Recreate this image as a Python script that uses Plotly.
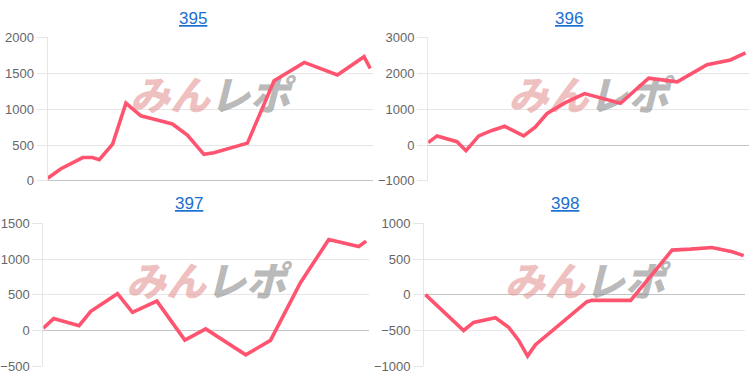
import plotly.graph_objects as go

# ---- data ----
titles = ["395", "396", "397", "398"]

x_395 = [0, 4.1, 10.8, 13.8, 15.9, 20.0, 24.1, 28.7, 32.8, 38.4, 43.0, 48.1, 51.2, 61.5, 69.7, 79.0, 89.2, 97.4, 99.3]
y_395 = [36, 170, 326, 326, 295, 513, 1085, 907, 861, 794, 639, 371, 393, 527, 1397, 1652, 1478, 1732, 1567]

x_396 = [0, 2.8, 9.0, 11.8, 15.8, 19.9, 23.9, 29.8, 33.4, 37.1, 42.8, 48.8, 60.0, 68.8, 77.7, 87.0, 94.3, 99.0]
y_396 = [67, 255, 94, -156, 255, 407, 523, 255, 496, 880, 1184, 1434, 1166, 1863, 1764, 2238, 2372, 2567]

x_397 = [0, 3.2, 11.0, 14.6, 22.8, 27.4, 34.9, 43.5, 49.9, 62.2, 69.8, 79.0, 87.7, 96.9, 99.2]
y_397 = [31, 166, 66, 268, 516, 255, 412, -136, 22, -342, -140, 669, 1276, 1177, 1253]

x_398 = [0.4, 12.3, 15.4, 22.2, 26.3, 29.4, 32.2, 34.6, 50.7, 52.3, 64.3, 77.2, 82.9, 89.6, 95.9, 99.5]
y_398 = [3, -501, -388, -321, -456, -636, -860, -703, -97, -78, -78, 627, 640, 663, 604, 550]

y_ranges = [[0, 2000], [-1000, 3000], [-500, 1500], [-1000, 1000]]
y_dticks = [500, 1000, 500, 500]

series = [(x_395, y_395), (x_396, y_396), (x_397, y_397), (x_398, y_398)]

# ---- layout geometry (pixels) ----
W, H = 754, 384
px_x = [(46.7, 372.0), (427.7, 748.7), (42.3, 368.3), (423.7, 745.3)]
px_y = [(31.7, 181.0), (31.7, 181.0), (225.3, 373.7), (225.3, 373.7)]
title_pos = [(192.5, 11.7), (568.7, 11.7), (188.3, 204.7), (564.5, 204.7)]

LINE = "rgb(255,84,112)"
GRID = "#e6e6e6"
ZERO = "#c4c4c4"
FONT = "Arial, Liberation Sans, sans-serif"

fig = go.Figure()
layout = dict(
    width=W, height=H,
    margin=dict(l=0, r=0, t=0, b=0),
    paper_bgcolor="white", plot_bgcolor="white",
    showlegend=False,
    annotations=[],
)

for i, ((xs, ys), rng, dt) in enumerate(zip(series, y_ranges, y_dticks)):
    n = "" if i == 0 else str(i + 1)
    xa, ya = "x" + n, "y" + n
    # watermark (drawn below the line)
    fig.add_trace(go.Scatter(
        x=[50], y=[rng[0] + 0.565 * (rng[1] - rng[0])],
        mode="text",
        text=["<i><span style='color:rgba(228,150,150,0.6)'>みん</span>"
              "<span style='color:rgba(140,140,140,0.62)'>レポ</span></i>"],
        textfont=dict(family="Noto Sans CJK JP", size=40, weight=900),
        xaxis=xa, yaxis=ya, hoverinfo="skip",
    ))
    fig.add_trace(go.Scatter(
        x=xs, y=ys, mode="lines",
        line=dict(color=LINE, width=3.6),
        xaxis=xa, yaxis=ya,
    ))
    x0, x1 = px_x[i]
    yt, yb = px_y[i]
    layout["xaxis" + n] = dict(
        domain=[x0 / W, x1 / W], range=[0, 100],
        showgrid=False, zeroline=False, showticklabels=False,
        showline=False, ticks="", anchor=ya, fixedrange=True,
    )
    layout["yaxis" + n] = dict(
        domain=[1 - yb / H, 1 - yt / H], range=rng, dtick=dt,
        showgrid=True, gridcolor=GRID, gridwidth=1,
        zeroline=True, zerolinecolor=ZERO, zerolinewidth=1,
        showline=True, linecolor=GRID, linewidth=1,
        ticks="outside", ticklen=10, tickcolor=GRID,
        tickfont=dict(family=FONT, size=13, color="#666666"),
        anchor=xa, fixedrange=True,
    )
    tx, ty = title_pos[i]
    layout["annotations"].append(dict(
        x=tx / W, y=1 - ty / H, xref="paper", yref="paper",
        xanchor="center", yanchor="middle", showarrow=False,
        text="<u>" + titles[i] + "</u>",
        font=dict(family=FONT, size=17, color="#1a6fd0"),
    ))

fig.update_layout(**layout)
fig.write_html("out.html")
